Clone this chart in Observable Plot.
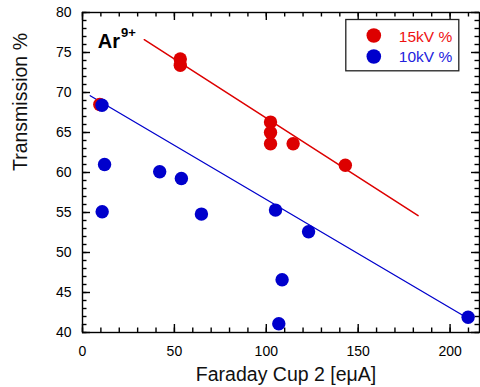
<!DOCTYPE html>
<html>
<head>
<meta charset="utf-8">
<script src="https://cdn.jsdelivr.net/npm/d3@7"></script>
<script src="https://cdn.jsdelivr.net/npm/@observablehq/plot@0.6"></script>
<style>
  html, body { margin: 0; padding: 0; background: #fff; }
  svg { display: block; }
</style>
</head>
<body>
<div id="chart"></div>
<script>
// Data
const red15X = [9.4, 53.2, 53.2, 102.3, 102.3, 102.3, 114.6, 143];
const red15Y = [68.5, 74.2, 73.4, 66.3, 65.0, 63.6, 63.6, 60.9];
const blue10X = [10.6, 12, 42, 53.8, 10.7, 64.7, 105, 123, 108.6, 106.8, 209.8];
const blue10Y = [68.4, 61.0, 60.1, 59.25, 55.1, 54.8, 55.3, 52.6, 46.6, 41.1, 41.9];
// Fit line endpoints
const redFitX = [33.6, 182.6];
const redFitY = [76.6, 54.6];
const blueFitX = [4.2, 208];
const blueFitY = [69.6, 42.0];
// Ticks
const xMajor = [0, 50, 100, 150, 200];
const xMinor = d3.range(0, 216, 10);
const yMajor = [40, 45, 50, 55, 60, 65, 70, 75, 80];
const yMinor = d3.range(40, 81, 1);
const seriesNames = ["15kV %", "10kV %"];

const RED = "#dd0000";
const BLUE = "#0000cc";
const pairs = (xs, ys) => xs.map((x, i) => [x, ys[i]]);

const W = 480, H = 387, ML = 82, MR = 1, MT = 12, MB = 55;
const PW = W - ML - MR, PH = H - MT - MB;
const tickStyle = { stroke: "#000", strokeWidth: 1.4 };

const chart = Plot.plot({
  width: W,
  height: H,
  marginLeft: ML,
  marginRight: MR,
  marginTop: MT,
  marginBottom: MB,
  style: { fontFamily: "'Liberation Sans', Arial, Helvetica, sans-serif", background: "#fff", color: "#000" },
  x: { domain: [0, 216] },
  y: { domain: [40, 80] },
  marks: [
    // inward ticks on all sides
    Plot.ruleX(xMinor, { ...tickStyle, insetTop: PH - 4.5 }),
    Plot.ruleX(xMajor, { ...tickStyle, insetTop: PH - 8 }),
    Plot.ruleX(xMinor, { ...tickStyle, insetBottom: PH - 4.5 }),
    Plot.ruleX(xMajor, { ...tickStyle, insetBottom: PH - 8 }),
    Plot.ruleY(yMinor, { ...tickStyle, insetRight: PW - 4.5 }),
    Plot.ruleY(yMajor, { ...tickStyle, insetRight: PW - 8 }),
    Plot.ruleY(yMinor, { ...tickStyle, insetLeft: PW - 4.5 }),
    Plot.ruleY(yMajor, { ...tickStyle, insetLeft: PW - 8 }),
    Plot.frame({ stroke: "#000", strokeWidth: 1.4 }),
    // tick labels
    Plot.axisX({ anchor: "bottom", ticks: xMajor, tickSize: 0, tickPadding: 14, fontSize: 14, label: null }),
    Plot.axisY({ anchor: "left", ticks: yMajor, tickSize: 0, tickPadding: 11, fontSize: 14, label: null }),
    // fit lines
    Plot.line(pairs(redFitX, redFitY), { stroke: RED, strokeWidth: 1.5 }),
    Plot.line(pairs(blueFitX, blueFitY), { stroke: BLUE, strokeWidth: 1.3 }),
    // data points
    Plot.dot(pairs(red15X, red15Y), { r: 6.7, fill: RED, stroke: null }),
    Plot.dot(pairs(blue10X, blue10Y), { r: 6.7, fill: BLUE, stroke: null }),
    // axis titles
    Plot.text(["Faraday Cup 2 [eμA]"], { frameAnchor: "bottom", dx: 5, dy: 42.5, lineAnchor: "middle", fontSize: 19.5, fill: "#111" }),
    Plot.text(["Transmission %"], { frameAnchor: "left", rotate: -90, dx: -62, dy: -1.5, lineAnchor: "middle", fontSize: 19.5, fill: "#111" }),
    // annotation
    Plot.text(["Ar"], { frameAnchor: "top-left", textAnchor: "start", lineAnchor: "bottom", dx: 15.3, dy: 35.7, fontSize: 20, fontWeight: "bold", fill: "#000" }),
    Plot.text(["9+"], { frameAnchor: "top-left", textAnchor: "start", lineAnchor: "bottom", dx: 38.5, dy: 24, fontSize: 13, fontWeight: "bold", fill: "#000" }),
    // legend
    Plot.frame({ stroke: "#222", strokeWidth: 1.3, fill: "#fff", insetLeft: 263.3, insetRight: 20.7, insetTop: 7, insetBottom: 261.7 }),
    Plot.dot([seriesNames[0]], { frameAnchor: "top-left", dx: 291.3, dy: 23, r: 7.3, fill: RED }),
    Plot.dot([seriesNames[1]], { frameAnchor: "top-left", dx: 291.3, dy: 44, r: 7.3, fill: BLUE }),
    Plot.text([seriesNames[0]], { frameAnchor: "top-left", textAnchor: "start", lineAnchor: "bottom", dx: 316.3, dy: 29.5, fontSize: 15.5, fill: "#ee1111" }),
    Plot.text([seriesNames[1]], { frameAnchor: "top-left", textAnchor: "start", lineAnchor: "bottom", dx: 316.3, dy: 49.5, fontSize: 15.5, fill: "#2222dd" })
  ]
});

document.getElementById("chart").appendChild(chart);
</script>
</body>
</html>
